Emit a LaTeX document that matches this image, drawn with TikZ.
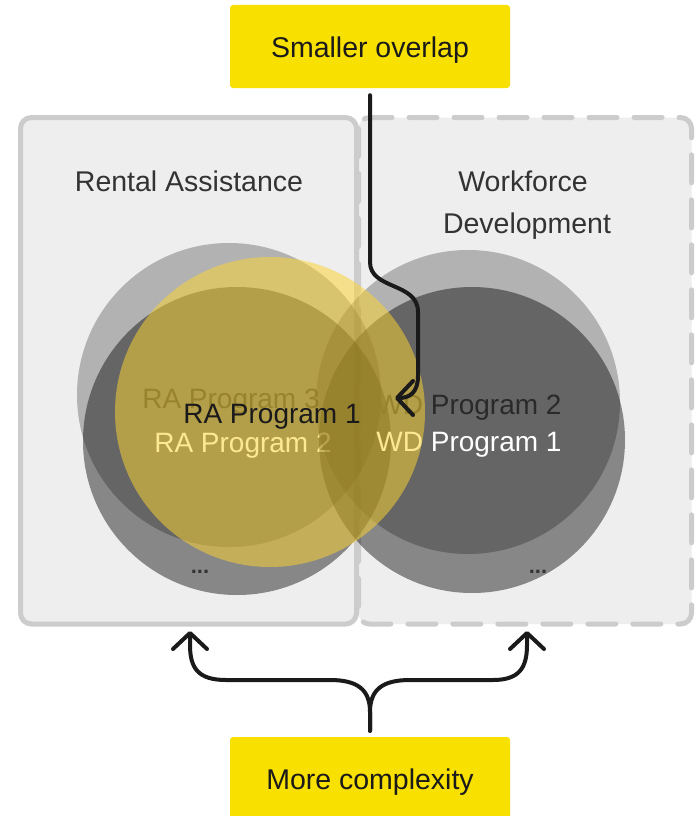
\documentclass[tikz,border=0pt]{standalone}
\usepackage{fontspec}
\setmainfont{Liberation Sans}
\usetikzlibrary{arrows.meta}
\definecolor{panelfill}{HTML}{EEEEEE}
\definecolor{panelline}{HTML}{CCCCCC}
\definecolor{boxyellow}{HTML}{F8E000}
\definecolor{venyellow}{RGB}{252,211,48}
\definecolor{ink}{HTML}{1A1A1A}
\definecolor{titleink}{HTML}{333333}
\definecolor{dimink}{HTML}{2A2A2A}
\begin{document}
\begin{tikzpicture}[x=1pt,y=-1pt,
  panel/.style={fill=panelfill, draw=panelline, line width=5pt, rounded corners=11pt},
  lightc/.style={fill=black, fill opacity=0.25},
  midc/.style={fill=black, fill opacity=0.43},
  yelc/.style={fill=venyellow, fill opacity=0.52},
  callout/.style={fill=boxyellow, rounded corners=3pt, minimum width=280pt, minimum height=83pt,
    inner sep=0pt, text height=21pt, text depth=0pt, font=\fontsize{28.5}{34}\selectfont, text=ink},
  title/.style={anchor=base, inner sep=0pt, font=\fontsize{28.5}{34}\selectfont, text=titleink},
  lab/.style={anchor=base, inner sep=0pt, font=\fontsize{28}{34}\selectfont},
  dots/.style={anchor=base, inner sep=0pt, font=\bfseries\fontsize{22}{26}\selectfont, text=titleink},
  conn/.style={draw=ink, line width=4pt, line cap=round, line join=round},
  tip/.style={-{Straight Barb[length=16pt,width=34pt,round]}}
]
\useasboundingbox (0,0) rectangle (696,816);
\fill[white] (0,0) rectangle (696,816);

% panels
\draw[panel, dash pattern=on 28pt off 17pt, line cap=round] (358.5,117.5) rectangle (691.5,624);
\draw[panel] (20.5,117.5) rectangle (356.5,624);

\node[title] (ratitle) at (189,191) {Rental Assistance};
\node[title] (wdtitle1) at (523,191) {Workforce};
\node[title] (wdtitle2) at (527,233) {Development};

% RA circles
\fill[lightc] (229,395) circle (152pt);
\fill[midc] (237,441) circle (154pt);
\node[lab, text=dimink] (ra3) at (231,408) {RA Program 3};
\node[lab, text=white] (ra2) at (243,452) {RA Program 2};

% WD circles
\fill[lightc] (468,402) circle (152pt);
\fill[midc] (472,440) circle (153pt);
\node[lab, text=dimink] (wd2) at (469,414) {WD Program 2};
\node[lab, text=white] (wd1) at (469,451) {WD Program 1};

% RA Program 1 circle
\fill[yelc] (270,412) circle (155pt);
\node[lab, text=ink] (ra1) at (272,423) {RA Program 1};

\node[dots] (radots) at (200,573) {...};
\node[dots] (wddots) at (538,573) {...};

% callouts
\node[callout] (top) at (370,46.5) {Smaller overlap};
\node[callout] (bot) at (370,778.5) {More complexity};

\coordinate (ovl) at (395,398);
\coordinate (raL) at (190,631);
\coordinate (wdR) at (527,631);

\draw[conn, tip, shorten <=7pt] (top.south) -- (370,262)
  .. controls (370,290) and (418,282) .. (418,312) -- (418,376)
  .. controls (418,392) and (410,398) .. (ovl);

\draw[conn, tip, shorten <=6pt] (bot.north) -- (370,712)
  .. controls (370,690) and (358,680) .. (330,680) -- (226,680)
  .. controls (198,680) and (190,668) .. (190,645) -- (raL);
\draw[conn, tip, shorten <=6pt] (bot.north) -- (370,712)
  .. controls (370,690) and (382,680) .. (410,680) -- (493,680)
  .. controls (519,680) and (527,668) .. (527,645) -- (wdR);
\end{tikzpicture}
\end{document}
